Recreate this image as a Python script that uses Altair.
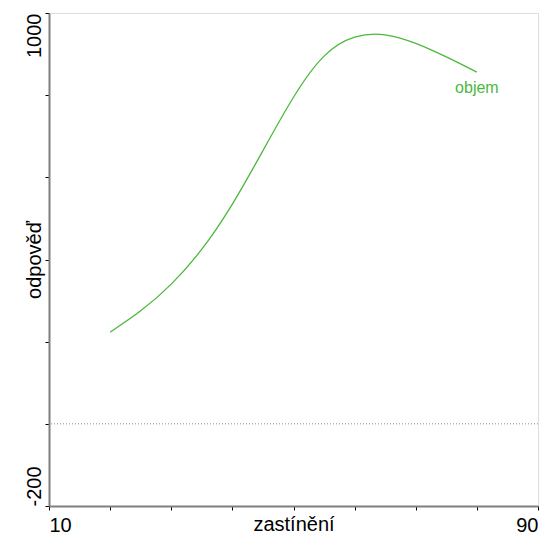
import altair as alt
import pandas as pd

# curve "objem"
x_vals = [20, 25, 30, 35, 40, 45, 50, 55, 60, 65, 70, 75, 80]
y_vals = [223, 275, 340, 425, 535, 665, 795, 895, 941, 947, 926, 893, 856]

series_name = "objem"
label_x = [80.0]
label_y = [817]

x_ticks = [10, 20, 30, 40, 50, 60, 70, 80, 90]
y_ticks = [-200, 0, 200, 400, 600, 800, 1000]
ref_y = [0]

GREEN = "#4cb83c"
FONT = "Liberation Sans"
W, H = 489, 493

df = pd.DataFrame({"x": x_vals, "y": y_vals})
lab = pd.DataFrame({"x": label_x, "y": label_y, "t": [series_name]})
ref = pd.DataFrame({"y": ref_y})

xscale = alt.Scale(domain=[10, 90], nice=False, zero=False)
yscale = alt.Scale(domain=[-200, 1000], nice=False, zero=False)

xaxis = alt.Axis(
    values=x_ticks,
    labelExpr="datum.value == 10 ? '10' : datum.value == 90 ? '90' : ''",
    labelFlush=True,
    labelBaseline="alphabetic",
    labelFontSize=20, labelFont=FONT, labelColor="black",
    labelPadding=21, tickSize=4, tickColor="black",
    domainColor="#7f7f7f", domainWidth=2, grid=False,
    title="zastínění", titleFont=FONT, titleFontSize=20, titleFontWeight="normal",
    titleColor="black", titleX=W / 2, titleY=24, titleAlign="center",
    titleBaseline="alphabetic",
)

yaxis = alt.Axis(
    values=y_ticks,
    labelExpr="datum.value == 1000 ? '1000' : datum.value == -200 ? '-200' : ''",
    labelAngle=270,
    labelAlign=alt.condition("datum.value == 1000", alt.value("right"), alt.value("left")),
    labelBaseline="alphabetic",
    labelFontSize=20, labelFont=FONT, labelColor="black",
    labelPadding=5, tickSize=4, tickColor="black",
    domainColor="#7f7f7f", domainWidth=2, grid=False,
    title="odpověď", titleFont=FONT, titleFontSize=20, titleFontWeight="normal",
    titleColor="black", titleAngle=270, titleX=-9, titleY=H / 2,
    titleAlign="center", titleBaseline="alphabetic",
)

line = alt.Chart(df).mark_line(color=GREEN, strokeWidth=1.3, interpolate="natural").encode(
    x=alt.X("x:Q", scale=xscale, axis=xaxis),
    y=alt.Y("y:Q", scale=yscale, axis=yaxis),
)

rule = alt.Chart(ref).mark_rule(color="#8c8c8c", strokeWidth=1, strokeDash=[1, 2]).encode(
    y=alt.Y("y:Q", scale=yscale),
)

text = alt.Chart(lab).mark_text(color=GREEN, fontSize=16, font=FONT, align="center", baseline="middle").encode(
    x=alt.X("x:Q", scale=xscale),
    y=alt.Y("y:Q", scale=yscale),
    text="t:N",
)

chart = alt.layer(rule, line, text).properties(
    width=W, height=H,
    autosize=alt.AutoSizeParams(type="none"),
    padding={"left": 41, "top": 5, "right": 3, "bottom": 28},
).configure_view(stroke="#8c8c8c", strokeWidth=1.5).configure(background="white")

chart.save("out.html", embed_options={"renderer": "svg", "actions": False})
